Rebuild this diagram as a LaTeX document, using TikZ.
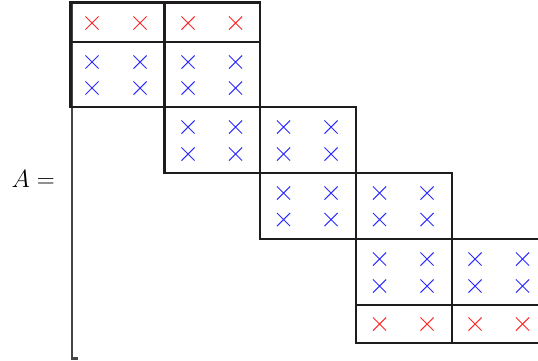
\documentclass[tikz,border=0pt]{standalone}
\usetikzlibrary{shapes.misc}
\definecolor{gridline}{RGB}{30,28,28}
\definecolor{brace}{RGB}{70,70,70}
\definecolor{xred}{RGB}{255,40,40}
\definecolor{xblue}{RGB}{45,45,255}
\tikzset{
  blockline/.style={draw=gridline, line width=2.8pt},
  innerline/.style={draw=gridline, line width=2.2pt},
  bracketline/.style={draw=brace, line width=2.2pt},
  xmark/.style={cross out, draw, line width=1.05pt, inner sep=0pt, minimum size=12pt},
  redx/.style={xmark, draw=xred},
  bluex/.style={xmark, draw=xblue},
}
\begin{document}
\begin{tikzpicture}[x=1pt, y=-1pt]
  \useasboundingbox (0,0) rectangle (538,360);
  \clip (0,0) rectangle (538,360);

  % left label
  \node[anchor=base west, inner sep=0pt, font=\fontsize{25}{30}\selectfont] (lbl) at (11.5,187) {$A =$};

  % matrix bracket
  \draw[bracketline] (78,2) -- (72,2) -- (72,358.5) -- (78,358.5);

  % block row 1: two blocks, red top row
  \draw[innerline] (70.5,42) -- (260,42);
  \draw[blockline] (70.5,2.5) rectangle (164.5,107);
  \draw[blockline] (164.5,2.5) rectangle (260,107);
  % block row 2
  \draw[blockline] (164.5,107) rectangle (260,173);
  \draw[blockline] (260,107) rectangle (356,173);
  % block row 3
  \draw[blockline] (260,173) rectangle (356,239);
  \draw[blockline] (356,173) rectangle (452,239);
  % block row 4: two blocks, red bottom row
  \draw[innerline] (356,305) -- (548,305);
  \draw[blockline] (356,239) rectangle (452,343);
  \draw[blockline] (452,239) rectangle (548,343);

  % entries
  \foreach \x in {92,140,188,235.5} \node[redx] at (\x,23) {};
  \foreach \x in {92,140,188,235.5} \foreach \y in {62,88} \node[bluex] at (\x,\y) {};
  \foreach \x in {188,235.5,283.5,331} \foreach \y in {127,154} \node[bluex] at (\x,\y) {};
  \foreach \x in {283.5,331,379.5,427} \foreach \y in {193,219.5} \node[bluex] at (\x,\y) {};
  \foreach \x in {379.5,427,475,522.5} \foreach \y in {259,286} \node[bluex] at (\x,\y) {};
  \foreach \x in {379.5,427,475,522.5} \node[redx] at (\x,324) {};
\end{tikzpicture}
\end{document}
